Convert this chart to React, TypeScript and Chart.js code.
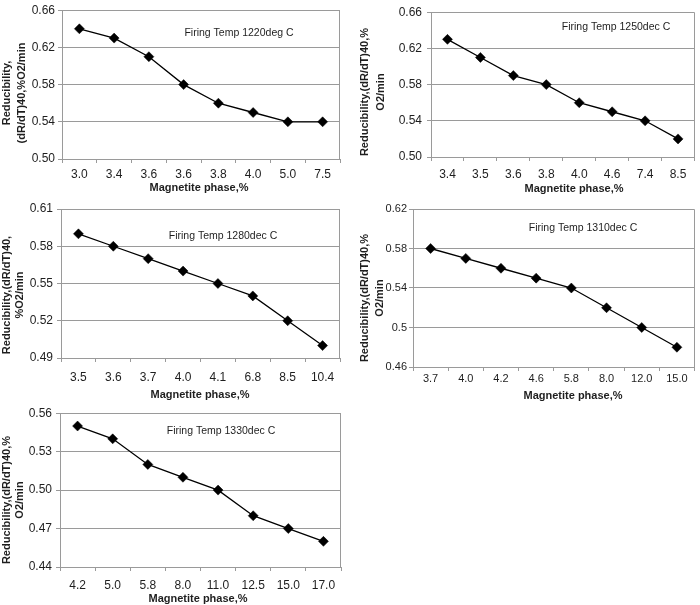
import React, { useEffect, useRef } from "react";
import { Chart, registerables } from "chart.js";

Chart.register(...registerables);

// ---------- data ----------
const labels1 = ["3.0", "3.4", "3.6", "3.6", "3.8", "4.0", "5.0", "7.5"];
const values1 = [0.64, 0.63, 0.61, 0.58, 0.56, 0.55, 0.54, 0.54];
const yRange1 = [0.5, 0.66, 0.04];

const labels2 = ["3.4", "3.5", "3.6", "3.8", "4.0", "4.6", "7.4", "8.5"];
const values2 = [0.63, 0.61, 0.59, 0.58, 0.56, 0.55, 0.54, 0.52];
const yRange2 = [0.5, 0.66, 0.04];

const labels3 = ["3.5", "3.6", "3.7", "4.0", "4.1", "6.8", "8.5", "10.4"];
const values3 = [0.59, 0.58, 0.57, 0.56, 0.55, 0.54, 0.52, 0.5];
const yRange3 = [0.49, 0.61, 0.03];

const labels4 = ["3.7", "4.0", "4.2", "4.6", "5.8", "8.0", "12.0", "15.0"];
const values4 = [0.58, 0.57, 0.56, 0.55, 0.54, 0.52, 0.5, 0.48];
const yRange4 = [0.46, 0.62, 0.04];

const labels5 = ["4.2", "5.0", "5.8", "8.0", "11.0", "12.5", "15.0", "17.0"];
const values5 = [0.55, 0.54, 0.52, 0.51, 0.5, 0.48, 0.47, 0.46];
const yRange5 = [0.44, 0.56, 0.03];

const notes = [
  "Firing Temp 1220deg C",
  "Firing Temp 1250dec C",
  "Firing Temp 1280dec C",
  "Firing Temp 1310dec C",
  "Firing Temp 1330dec C",
];
const yTitles = [
  ["Reducibility,", "(dR/dT)40,%O2/min"],
  ["Reducibility,(dR/dT)40,%", "O2/min"],
  ["Reducibility,(dR/dT)40,", "%O2/min"],
  ["Reducibility,(dR/dT)40,%", "O2/min"],
  ["Reducibility,(dR/dT)40,%", "O2/min"],
];
const xTitle = "Magnetite phase,%";

// ---------- layout (page coordinates) ----------
const FONT = "'Liberation Sans', Arial, Helvetica, sans-serif";
const GRID = "#9a9a9a";
const TEXT = "#1e1e1e";

type Panel = {
  labels: string[];
  values: number[];
  yRange: number[];
  fmt: (v: number) => string;
  box: { x: number; y: number; w: number; h: number };
  plot: { l: number; t: number; r: number; b: number };
  xPad: number;
  yPad: number;
  tickSize: number;
  note: string;
  noteAt: [number, number];
  yTitle: string[];
  yTitleX: [number, number];
  yTitleY: number;
  xTitleAt: [number, number];
};

const fix2 = (v: number) => v.toFixed(2);
const short = (v: number) => String(parseFloat(v.toFixed(2)));

const panels: Panel[] = [
  {
    labels: labels1, values: values1, yRange: yRange1, fmt: fix2,
    box: { x: 0, y: 0, w: 350, h: 197 },
    plot: { l: 62, t: 6, r: 340, b: 159 },
    xPad: 4, yPad: 3, tickSize: 12,
    note: notes[0], noteAt: [239, 33],
    yTitle: yTitles[0], yTitleX: [7, 22], yTitleY: 93,
    xTitleAt: [199, 188],
  },
  {
    labels: labels2, values: values2, yRange: yRange2, fmt: fix2,
    box: { x: 350, y: 0, w: 350, h: 197 },
    plot: { l: 431, t: 6, r: 697, b: 157 },
    xPad: 6, yPad: 5, tickSize: 12,
    note: notes[1], noteAt: [616, 27],
    yTitle: yTitles[1], yTitleX: [365, 381], yTitleY: 92,
    xTitleAt: [574, 189],
  },
  {
    labels: labels3, values: values3, yRange: yRange3, fmt: fix2,
    box: { x: 0, y: 197, w: 350, h: 205 },
    plot: { l: 61, t: 209, r: 340, b: 358 },
    xPad: 8, yPad: 4, tickSize: 12,
    note: notes[2], noteAt: [223, 236],
    yTitle: yTitles[2], yTitleX: [7, 20], yTitleY: 295,
    xTitleAt: [200, 395],
  },
  {
    labels: labels4, values: values4, yRange: yRange4, fmt: short,
    box: { x: 350, y: 197, w: 350, h: 205 },
    plot: { l: 413, t: 209, r: 699, b: 367 },
    xPad: 1, yPad: 2, tickSize: 11,
    note: notes[3], noteAt: [583, 228],
    yTitle: yTitles[3], yTitleX: [365, 380], yTitleY: 298,
    xTitleAt: [573, 396],
  },
  {
    labels: labels5, values: values5, yRange: yRange5, fmt: fix2,
    box: { x: 0, y: 402, w: 350, h: 203 },
    plot: { l: 60, t: 413, r: 341, b: 567 },
    xPad: 7, yPad: 4, tickSize: 12,
    note: notes[4], noteAt: [221, 431],
    yTitle: yTitles[4], yTitleX: [7, 20], yTitleY: 500,
    xTitleAt: [198, 599],
  },
];

function makeTextPlugin(p: Panel) {
  return {
    id: "panelTexts",
    afterDraw(chart: any) {
      const ctx = chart.ctx as CanvasRenderingContext2D;
      const ox = p.box.x;
      const oy = p.box.y;
      const a = chart.chartArea;
      ctx.save();
      // right border of plot area
      ctx.strokeStyle = GRID;
      ctx.lineWidth = 1;
      const rx = Math.round(a.right) - 0.5;
      ctx.beginPath();
      ctx.moveTo(rx, Math.round(a.top) + 0.5);
      ctx.lineTo(rx, Math.round(a.bottom) + 0.5);
      ctx.stroke();

      ctx.fillStyle = TEXT;
      ctx.textAlign = "center";
      ctx.textBaseline = "middle";
      // annotation
      ctx.font = `10.5px ${FONT}`;
      ctx.fillText(p.note, p.noteAt[0] - ox, p.noteAt[1] - oy);
      // x title
      ctx.font = `bold 11px ${FONT}`;
      ctx.fillText(xTitle, p.xTitleAt[0] - ox, p.xTitleAt[1] - oy);
      // y title (rotated)
      p.yTitle.forEach((line, i) => {
        ctx.save();
        ctx.translate(p.yTitleX[i] - ox, p.yTitleY - oy);
        ctx.rotate(-Math.PI / 2);
        ctx.font = `bold 11px ${FONT}`;
        ctx.fillText(line, 0, 0);
        ctx.restore();
      });
      ctx.restore();
    },
  };
}

function PanelChart({ p }: { p: Panel }) {
  const ref = useRef<HTMLCanvasElement | null>(null);
  useEffect(() => {
    if (!ref.current) return;
    const [ymin, ymax, ystep] = p.yRange;
    const chart = new Chart(ref.current, {
      type: "line",
      data: {
        labels: p.labels,
        datasets: [
          {
            data: p.values,
            borderColor: "#000",
            borderWidth: 1.3,
            tension: 0,
            pointStyle: "rectRot",
            pointRadius: 5,
            pointBackgroundColor: "#000",
            pointBorderColor: "#000",
            pointBorderWidth: 0.5,
          },
        ],
      },
      options: {
        responsive: false,
        animation: false,
        devicePixelRatio: 1,
        layout: {
          padding: {
            left: 0,
            bottom: 0,
            top: p.plot.t - p.box.y,
            right: p.box.x + p.box.w - p.plot.r,
          },
        },
        plugins: {
          legend: { display: false },
          tooltip: { enabled: false },
          title: { display: false },
        },
        scales: {
          x: {
            type: "category",
            offset: true,
            afterFit: (s: any) => {
              s.height = p.box.y + p.box.h - p.plot.b;
            },
            grid: {
              offset: true,
              drawOnChartArea: false,
              drawTicks: true,
              tickLength: 4,
              color: GRID,
            },
            border: { display: true, color: GRID, width: 1 },
            ticks: {
              autoSkip: false,
              maxRotation: 0,
              minRotation: 0,
              padding: p.xPad,
              color: TEXT,
              font: { family: FONT, size: p.tickSize },
            },
            title: { display: false },
          },
          y: {
            type: "linear",
            min: ymin,
            max: ymax,
            afterFit: (s: any) => {
              s.width = p.plot.l - p.box.x;
            },
            grid: {
              color: GRID,
              drawTicks: true,
              tickLength: 4,
            },
            border: { display: true, color: GRID, width: 1 },
            ticks: {
              stepSize: ystep,
              padding: p.yPad,
              color: TEXT,
              font: { family: FONT, size: p.tickSize },
              callback: (v: any) => p.fmt(Number(v)),
            },
            title: { display: false },
          },
        },
      },
      plugins: [makeTextPlugin(p)],
    } as any);
    return () => chart.destroy();
  }, [p]);
  return (
    <canvas
      ref={ref}
      width={p.box.w}
      height={p.box.h}
      style={{
        position: "absolute",
        left: p.box.x,
        top: p.box.y,
        width: p.box.w,
        height: p.box.h,
      }}
    />
  );
}

export default function App() {
  return (
    <div
      style={{
        position: "absolute",
        left: 0,
        top: 0,
        width: 700,
        height: 605,
        background: "#fff",
      }}
    >
      {panels.map((p, i) => (
        <PanelChart key={i} p={p} />
      ))}
    </div>
  );
}
